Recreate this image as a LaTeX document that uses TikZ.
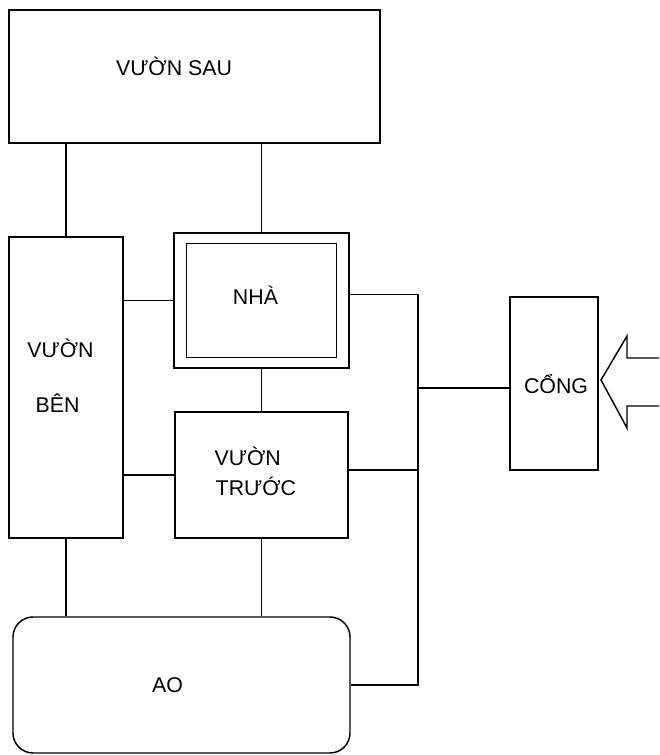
\documentclass[tikz,border=0pt]{standalone}
\usepackage{fontspec}
\setmainfont{Liberation Sans}
\usepackage{tikz}
\usetikzlibrary{calc}

\begin{document}
\begin{tikzpicture}[x=0.75pt,y=-0.75pt,line width=1.1pt,
    box/.style={draw,inner sep=0pt},
    lbl/.style={inner sep=0pt,font=\fontsize{16}{19}\selectfont}]
  \useasboundingbox (0,0) rectangle (659,755);
  % blocks
  \node[box,minimum width=278.25pt,minimum height=99.75pt] (sau) at (194.5,76.5) {};
  \node[box,minimum width=85.5pt,minimum height=225.75pt] (ben) at (66,387.5) {};
  \node[box,minimum width=131.25pt,minimum height=101.25pt] (nha) at (261.5,300.5) {};
  \draw ([shift={(13,11)}]nha.north west) rectangle ([shift={(-13,-11)}]nha.south east);
  \node[box,minimum width=129.75pt,minimum height=94.5pt] (truoc) at (261.5,475) {};
  \node[box,rounded corners=15pt,minimum width=252.75pt,minimum height=102pt] (ao) at (181.5,685) {};
  \node[box,minimum width=66pt,minimum height=129.75pt] (cong) at (554,383.5) {};
  % texts
  \node[lbl,anchor=base] (tsau) at (174,76) {VƯỜN SAU};
  \node[lbl,anchor=base] (tnha) at (255.5,304) {NHÀ};
  \node[lbl,anchor=base] (tben1) at (60.5,357) {VƯỜN};
  \node[lbl,anchor=base] (tben2) at (57.5,412) {BÊN};
  \node[lbl,anchor=base west] (ttruoc1) at (214,465) {VƯỜN};
  \node[lbl,anchor=base west] (ttruoc2) at (215,495) {TRƯỚC};
  \node[lbl,anchor=base] (tcong) at (556,393) {CỔNG};
  \node[lbl,anchor=base] (tao) at (167.5,692) {AO};
  % links
  \draw (sau.south -| ben.north) -- (ben.north);
  \draw (sau.south -| nha.north) -- (nha.north);
  \draw (ben.east |- nha.west) -- (nha.west);
  \draw (ben.east |- truoc.west) -- (truoc.west);
  \draw (nha.south) -- (truoc.north);
  \draw (ben.south) -- (ben.south |- ao.north);
  \draw (truoc.south) -- (truoc.south |- ao.north);
  % right bus
  \coordinate (bus) at (418,0);
  \coordinate (nhaout) at ([yshift=4.5pt]nha.east);
  \coordinate (truocout) at ([yshift=3.75pt]truoc.east);
  \coordinate (congin) at ([yshift=-3.4pt]cong.west);
  \draw (nhaout) -- (nhaout -| bus) -- (ao.east -| bus) -- (ao.east);
  \draw (truocout) -- (truocout -| bus);
  \draw (congin -| bus) -- (congin);
  % entrance arrow
  \draw[line join=miter] (659,358) -- (627,358) -- (627,336) -- (601,380)
      -- (627,428) -- (627,406) -- (659,406);
\end{tikzpicture}
\end{document}
